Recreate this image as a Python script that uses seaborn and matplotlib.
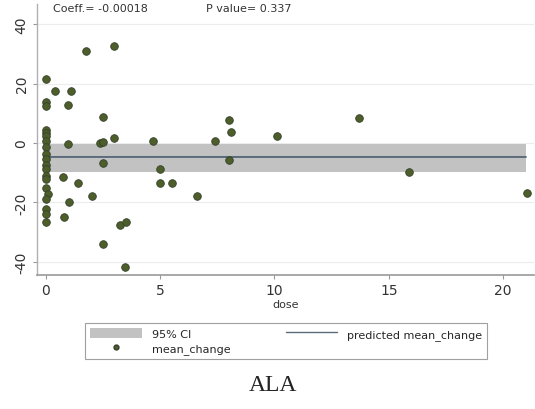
import numpy as np
import pandas as pd
import seaborn as sns
import matplotlib
matplotlib.use("Agg")
import matplotlib.pyplot as plt
from matplotlib.patches import Patch
from matplotlib.lines import Line2D

sns.set_style("white")
plt.rcParams['font.family'] = ['DejaVu Sans']

# dose vs mean_change
dose = [0, 0, 0, 0, 0, 0, 0, 0, 0, 0, 0, 0, 0, 0, 0, 0.1, 0, 0, 0, 0,
        0.4, 1.1, 0.95, 1.75, 3.0, 2.5, 0.95, 2.35, 2.5, 3.0, 4.7,
        2.5, 0.75, 1.4, 2.0, 1.0, 0.8, 3.25, 3.5, 2.5, 3.45,
        5.0, 5.0, 5.5, 6.6, 7.4, 8.0, 8.1, 8.0, 10.1, 13.7, 15.9, 21.05]
mean_change = [21.5, 13.8, 12.5, 4.4, 3.5, 2.4, 0.7, -1.3, -3.7, -5.4, -7.4, -8.8, -11.1, -12.1, -15.0, -17.2, -18.9, -22.2, -23.9, -26.6,
               17.5, 17.5, 12.8, 31.0, 32.7, 8.6, -0.3, 0.0, 0.5, 1.7, 0.8,
               -6.7, -11.4, -13.5, -17.8, -19.9, -24.9, -27.6, -26.6, -34.0, -41.8,
               -8.8, -13.5, -13.5, -17.8, 0.7, 7.6, 3.6, -5.6, 2.4, 8.5, -9.8, -16.9]

# fitted line and its 95% CI
pred_dose = [0, 21]
pred = [-4.70, -4.70384]
ci_lo = [-9.8, -9.8]
ci_hi = [-0.2, -0.2]

coef_text = "Coeff.= -0.00018"
p_text = "P value= 0.337"
title = "ALA"

df = pd.DataFrame({"dose": dose, "mean_change": mean_change})
line_df = pd.DataFrame({"dose": pred_dose, "pred": pred})

fig = plt.figure(figsize=(5.35, 4.10), dpi=100)
ax = fig.add_axes([0.069, 0.327, 0.929, 0.661])

for yv in [-40, -20, 0, 20, 40]:
    ax.axhline(yv, color='#ececec', lw=0.8, zorder=0)

ax.fill_between(pred_dose, ci_lo, ci_hi, color='#c2c2c2', lw=0, zorder=1)
sns.lineplot(data=line_df, x="dose", y="pred", ax=ax, color='#5a6b7a', lw=1.4, zorder=2)
sns.scatterplot(data=df, x="dose", y="mean_change", ax=ax, color='#4d5e2a',
                edgecolor='#34402a', linewidth=0.6, s=30, zorder=3)

ax.set_xlim(-0.39, 21.35)
ax.set_ylim(-44.4, 46.8)
ax.set_xticks([0, 5, 10, 15, 20])
ax.set_yticks([-40, -20, 0, 20, 40])
ax.set_xticklabels(['0', '5', '10', '15', '20'], fontsize=10, color='#333333')
ax.set_yticklabels(['-40', '-20', '0', '20', '40'], fontsize=10, color='#333333',
                   rotation=90, va='center')
ax.tick_params(axis='both', length=3, width=0.8, color='#999999', direction='out',
               bottom=True, left=True, pad=3)
ax.set_xlabel("dose", fontsize=8, color='#333333', labelpad=1)
ax.set_ylabel("")
for s in ['top', 'right']:
    ax.spines[s].set_visible(False)
ax.spines['left'].set_color('#b0b0b0')
ax.spines['bottom'].set_color('#999999')
ax.spines['left'].set_linewidth(1.0)
ax.spines['bottom'].set_linewidth(1.2)

ax.text(0.032, 0.985, coef_text, transform=ax.transAxes, fontsize=8,
        color='#333333', va='center')
ax.text(0.34, 0.985, p_text, transform=ax.transAxes, fontsize=8,
        color='#333333', va='center')

handles = [Patch(facecolor='#c2c2c2', edgecolor='none'),
           Line2D([], [], marker='o', ls='none', color='#4d5e2a',
                  markeredgecolor='#34402a', markersize=3.5),
           Line2D([], [], color='#5a6b7a', lw=1.0)]
labels = ["95% CI", "mean_change", "predicted mean_change"]
leg = fig.legend(handles, labels, ncol=2, loc='center',
                 bbox_to_anchor=(0.535, 0.166), fontsize=8, frameon=True,
                 fancybox=False, edgecolor='#888888', handlelength=4.6,
                 handleheight=1.0, columnspacing=5.0, borderpad=0.45,
                 labelspacing=0.3, handletextpad=0.9)
leg.get_frame().set_linewidth(0.8)

fig.text(0.51, 0.06, title, fontsize=17, family='Liberation Serif',
         ha='center', va='center', color='#222222')

fig.savefig("out.png", dpi=100)
